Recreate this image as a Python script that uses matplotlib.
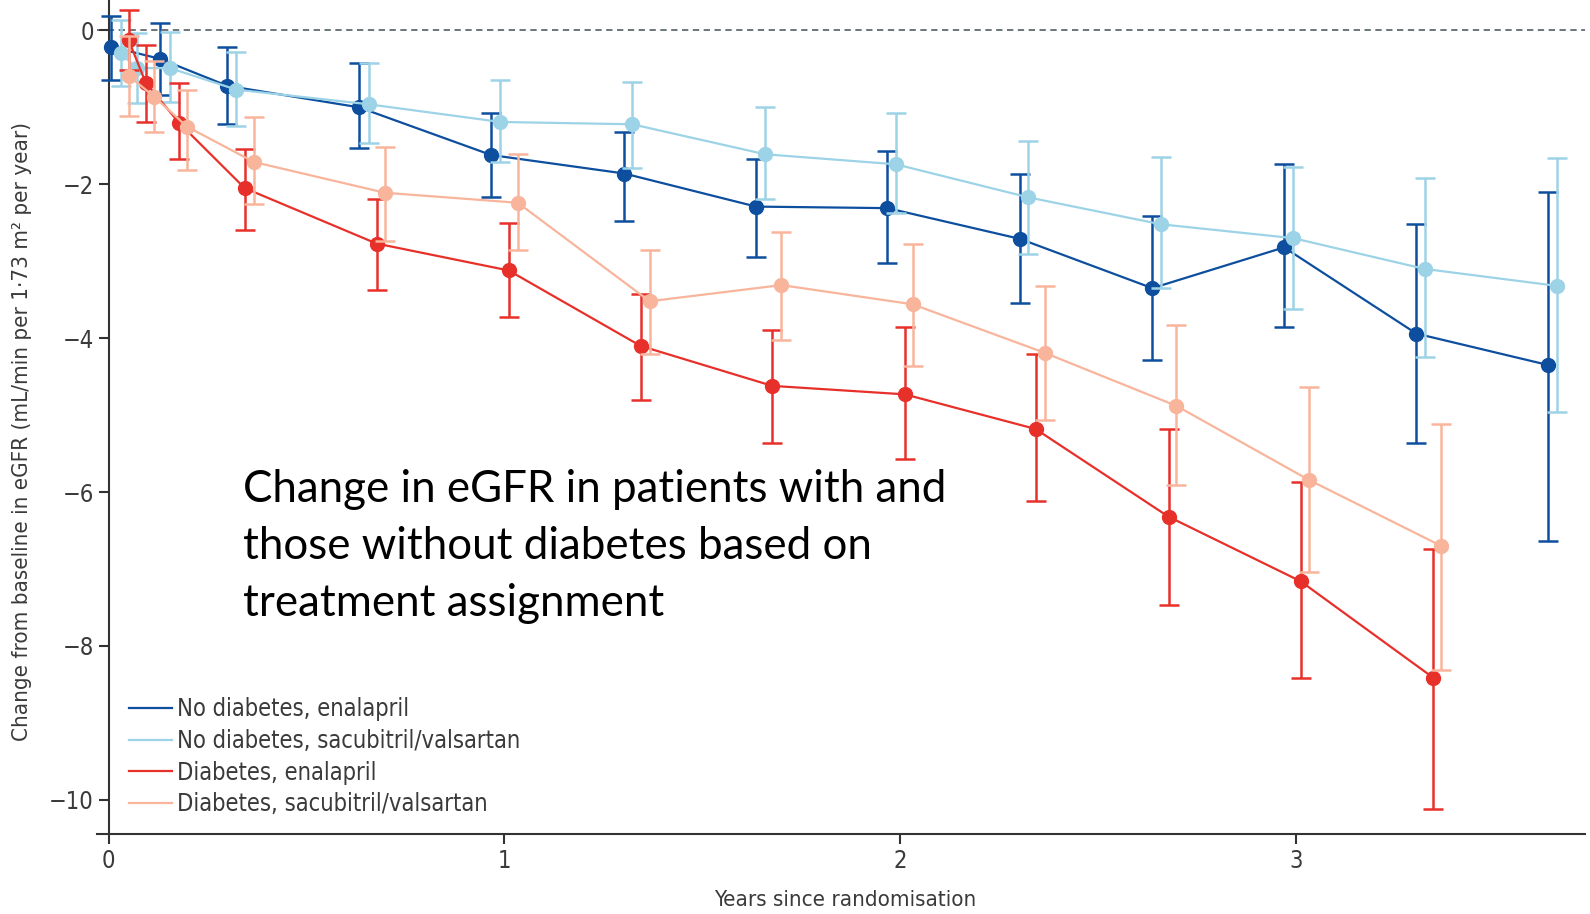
import matplotlib
matplotlib.use("Agg")
import matplotlib.pyplot as plt
import numpy as np

# years since randomisation, estimate, 95% CI bounds
nd_enal_x = [0.005, 0.13, 0.30, 0.633, 0.967, 1.303, 1.636, 1.968, 2.303, 2.637, 2.97, 3.304, 3.638]
nd_enal_y = [-0.21, -0.37, -0.72, -1.00, -1.62, -1.86, -2.29, -2.31, -2.71, -3.35, -2.82, -3.94, -4.35]
nd_enal_lo = [-0.64, -0.84, -1.22, -1.53, -2.17, -2.48, -2.94, -3.02, -3.54, -4.29, -3.86, -5.36, -6.63]
nd_enal_hi = [0.19, 0.10, -0.22, -0.43, -1.08, -1.32, -1.67, -1.57, -1.87, -2.41, -1.73, -2.51, -2.10]

nd_sac_x = [0.031, 0.071, 0.155, 0.323, 0.657, 0.99, 1.323, 1.659, 1.989, 2.324, 2.659, 2.993, 3.325, 3.659]
nd_sac_y = [-0.30, -0.49, -0.49, -0.77, -0.96, -1.19, -1.22, -1.61, -1.74, -2.17, -2.52, -2.70, -3.10, -3.32]
nd_sac_lo = [-0.72, -0.94, -0.93, -1.24, -1.46, -1.71, -1.79, -2.19, -2.37, -2.90, -3.35, -3.62, -4.24, -4.96]
nd_sac_hi = [0.13, -0.04, -0.02, -0.28, -0.43, -0.65, -0.67, -0.99, -1.07, -1.44, -1.65, -1.78, -1.92, -1.66]

d_enal_x = [0.051, 0.094, 0.178, 0.344, 0.677, 1.011, 1.344, 1.677, 2.012, 2.342, 2.678, 3.012, 3.346]
d_enal_y = [-0.13, -0.68, -1.20, -2.05, -2.77, -3.12, -4.10, -4.62, -4.73, -5.18, -6.32, -7.16, -8.41]
d_enal_lo = [-0.52, -1.19, -1.67, -2.59, -3.37, -3.73, -4.80, -5.36, -5.57, -6.11, -7.47, -8.41, -10.12]
d_enal_hi = [0.26, -0.19, -0.68, -1.54, -2.19, -2.50, -3.43, -3.89, -3.86, -4.20, -5.18, -5.87, -6.74]

d_sac_x = [0.051, 0.115, 0.198, 0.367, 0.698, 1.034, 1.367, 1.70, 2.032, 2.365, 2.698, 3.032, 3.367]
d_sac_y = [-0.59, -0.86, -1.25, -1.71, -2.11, -2.24, -3.52, -3.31, -3.56, -4.19, -4.88, -5.84, -6.70]
d_sac_lo = [-1.11, -1.32, -1.81, -2.26, -2.74, -2.86, -4.20, -4.02, -4.36, -5.06, -5.91, -7.04, -8.31]
d_sac_hi = [-0.07, -0.40, -0.77, -1.13, -1.51, -1.61, -2.85, -2.62, -2.77, -3.32, -3.83, -4.64, -5.11]

names = ["No diabetes, enalapril", "No diabetes, sacubitril/valsartan",
         "Diabetes, enalapril", "Diabetes, sacubitril/valsartan"]
colours = ["#0d4f9e", "#9dd3e6", "#e8302a", "#f8b59c"]

tick_col = "#3a3a3a"
small = {"family": "DejaVu Sans", "stretch": "condensed", "size": 16}

fig = plt.figure(figsize=(15.9, 9.14), dpi=100)
ax = fig.add_axes([0.0608, 0.087, 0.936, 0.913])

series = [
    (nd_sac_x, nd_sac_y, nd_sac_lo, nd_sac_hi, 1),
    (nd_enal_x, nd_enal_y, nd_enal_lo, nd_enal_hi, 0),
    (d_sac_x, d_sac_y, d_sac_lo, d_sac_hi, 3),
    (d_enal_x, d_enal_y, d_enal_lo, d_enal_hi, 2),
]
for x, y, lo, hi, i in series:
    y = np.array(y)
    err = [y - np.array(lo), np.array(hi) - y]
    ax.errorbar(x, y, yerr=err, color=colours[i], marker="o", markersize=10,
                linewidth=1.6, elinewidth=1.8, capsize=7, capthick=1.8, zorder=3 + i)

ax.axhline(0, color="#5f6b70", linestyle=(0, (3.5, 2.5)), linewidth=1.3, zorder=1)

# legend drawn as proxy lines
handles = [plt.Line2D([], [], color=c, linewidth=1.6) for c in colours]
ax.legend(handles, names, loc="lower left", bbox_to_anchor=(0.022, 0.022), frameon=False,
          prop={"family": "DejaVu Sans", "stretch": "condensed", "size": 17},
          handlelength=1.8, handletextpad=0.2, labelspacing=0.32, borderpad=0,
          borderaxespad=0, labelcolor=tick_col)

ax.set_xlim(-0.03, 3.73)
ax.set_ylim(-10.45, 0.395)
ax.spines["left"].set_position(("data", 0))
ax.spines["top"].set_visible(False)
ax.spines["right"].set_visible(False)
for s in ["left", "bottom"]:
    ax.spines[s].set_color("#333333")
    ax.spines[s].set_linewidth(1.5)

ax.set_xticks([0, 1, 2, 3])
ax.set_yticks([0, -2, -4, -6, -8, -10])
ax.set_yticklabels(["0", "\u22122", "\u22124", "\u22126", "\u22128", "\u221210"])
for lab in ax.get_xticklabels() + ax.get_yticklabels():
    lab.set_fontproperties(small)
    lab.set_fontsize(17)
    lab.set_color(tick_col)
ax.tick_params(length=7, width=1.5, color="#333333")

ax.set_xlabel("Years since randomisation", fontdict=small, color=tick_col)
ax.xaxis.set_label_coords(0.503, -0.079)
ax.xaxis.label.set_va("center")
ax.set_ylabel("Change from baseline in eGFR (mL/min per 1\u00b773 m\u00b2 per year)",
              fontdict=small, color=tick_col)
ax.yaxis.set_label_coords(-0.050, 0.4835)
ax.yaxis.label.set_va("center")

fig.text(0.153, 0.487, "Change in eGFR in patients with and\nthose without diabetes based on\ntreatment assignment",
         family=["Lato", "DejaVu Sans"], fontsize=31.6, color="black", va="top", ha="left", linespacing=1.48)

fig.savefig("out.png", dpi=100)
